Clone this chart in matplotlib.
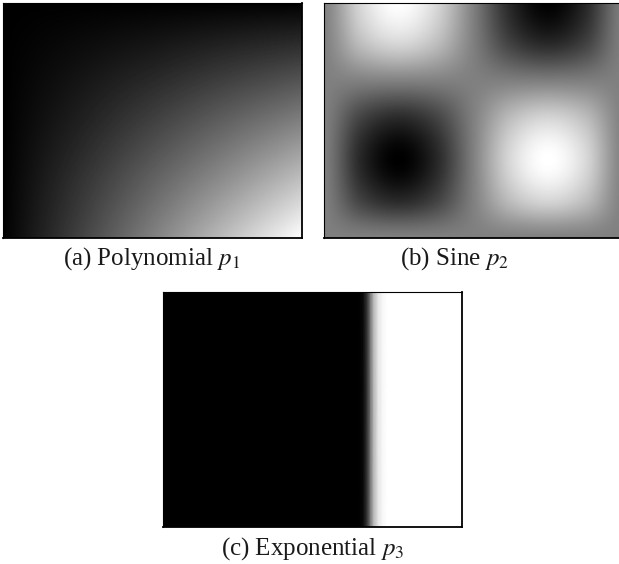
#!/usr/bin/env python3
"""Three test fields shown as grey-scale images: polynomial, sine, exponential."""

import numpy as np
import matplotlib
matplotlib.use("Agg")
import matplotlib.pyplot as plt

plt.rcParams["font.family"] = ["Liberation Serif", "DejaVu Serif"]
plt.rcParams["mathtext.fontset"] = "stix"

# (a) polynomial p1, brightness sampled on a 5x5 grid (rows top -> bottom)
POLY_X = [0.0, 0.25, 0.5, 0.75, 1.0]
POLY_Y = [0.0, 0.25, 0.5, 0.75, 1.0]
POLY_VALUES = [
    [0.00, 0.00, 0.00, 0.00, 0.00],
    [0.00, 0.06, 0.12, 0.19, 0.25],
    [0.00, 0.12, 0.25, 0.38, 0.50],
    [0.00, 0.19, 0.38, 0.56, 0.75],
    [0.00, 0.25, 0.50, 0.75, 1.00],
]

# (b) sine p2, brightness sampled on a 9x7 grid (rows top -> bottom)
SINE_X = [0.0, 0.125, 0.25, 0.375, 0.5, 0.625, 0.75, 0.875, 1.0]
SINE_Y = [0.0, 1 / 6, 2 / 6, 3 / 6, 4 / 6, 5 / 6, 1.0]
SINE_VALUES = [
    [0.50, 0.85, 1.00, 0.85, 0.50, 0.15, 0.00, 0.15, 0.50],
    [0.50, 0.75, 0.85, 0.75, 0.50, 0.25, 0.15, 0.25, 0.50],
    [0.50, 0.50, 0.50, 0.50, 0.50, 0.50, 0.50, 0.50, 0.50],
    [0.50, 0.25, 0.15, 0.25, 0.50, 0.75, 0.85, 0.75, 0.50],
    [0.50, 0.15, 0.00, 0.15, 0.50, 0.85, 1.00, 0.85, 0.50],
    [0.50, 0.25, 0.15, 0.25, 0.50, 0.75, 0.85, 0.75, 0.50],
    [0.50, 0.50, 0.50, 0.50, 0.50, 0.50, 0.50, 0.50, 0.50],
]

# (c) exponential p3, brightness profile across x (constant in y)
EXP_X = [0.0, 0.655, 0.67, 0.685, 0.695, 0.705, 0.72, 0.735, 0.75, 1.0]
EXP_PROFILE = [0.0, 0.0, 0.04, 0.25, 0.5, 0.72, 0.9, 0.97, 1.0, 1.0]

CAPTIONS = [
    r"(a) Polynomial $p_1$",
    r"(b) Sine $p_2$",
    r"(c) Exponential $p_3$",
]

W, H = 619, 564


def frame(ax):
    ax.set_xticks([])
    ax.set_yticks([])
    for side, spine in ax.spines.items():
        spine.set_color("black")
        spine.set_linewidth(1.3 if side in ("right", "bottom") else 0.8)


def grid_image(ax, xs, ys, values, interp):
    values = np.asarray(values)
    dx = xs[1] - xs[0]
    dy = ys[1] - ys[0]
    ax.imshow(
        values,
        cmap="gray",
        vmin=0,
        vmax=1,
        interpolation=interp,
        extent=(xs[0] - dx / 2, xs[-1] + dx / 2, ys[-1] + dy / 2, ys[0] - dy / 2),
        aspect="auto",
    )
    ax.set_xlim(0, 1)
    ax.set_ylim(1, 0)


def main():
    fig = plt.figure(figsize=(W / 100, H / 100), dpi=100)

    ax_a = fig.add_axes([3 / W, 1 - 238 / H, 299 / W, 235 / H])
    grid_image(ax_a, POLY_X, POLY_Y, POLY_VALUES, "bilinear")
    frame(ax_a)

    ax_b = fig.add_axes([324 / W, 1 - 238 / H, 299 / W, 235 / H])
    grid_image(ax_b, SINE_X, SINE_Y, SINE_VALUES, "catrom")
    frame(ax_b)

    ax_c = fig.add_axes([163 / W, 1 - 527 / H, 299 / W, 235 / H])
    xx, yy = np.meshgrid(EXP_X, [0.0, 1.0])
    cc = np.vstack([EXP_PROFILE, EXP_PROFILE])
    ax_c.pcolormesh(xx, yy, cc, cmap="gray", vmin=0, vmax=1, shading="gouraud")
    ax_c.set_xlim(0, 1)
    ax_c.set_ylim(0, 1)
    frame(ax_c)

    caption_pos = [(152, 259), (455, 259), (313, 549)]
    for text, (cx, cy) in zip(CAPTIONS, caption_pos):
        fig.text(cx / W, 1 - cy / H, text, ha="center", va="center",
                 fontsize=18, color="#1a1a1a")

    fig.savefig("out.png", dpi=100)
    plt.close(fig)


if __name__ == "__main__":
    main()
